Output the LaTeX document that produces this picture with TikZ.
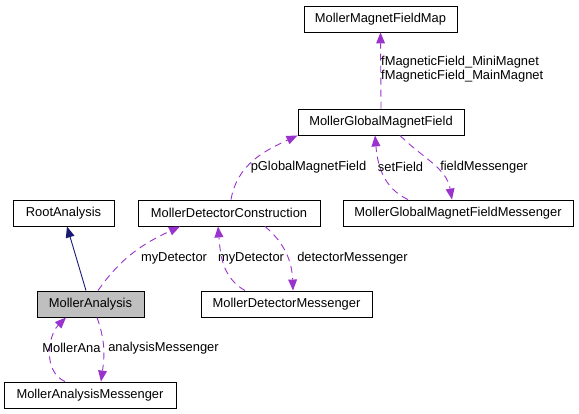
\documentclass[tikz,border=0pt]{standalone}
\usepackage{fontspec}
\setmainfont{Liberation Sans}
\usetikzlibrary{arrows.meta}
\definecolor{edgepurple}{HTML}{9A32CD}
\definecolor{edgenavy}{HTML}{191970}
\definecolor{boxgray}{HTML}{BFBFBF}
\tikzset{
  cls/.style={draw=black, line width=0.9pt, fill=white, inner sep=0pt, minimum height=26pt,
    font=\fontsize{12.9}{14}\selectfont, anchor=center},
  usage/.style={draw=edgepurple, line width=0.9pt, dash pattern=on 7pt off 5pt,
    -{Triangle[length=11pt,width=9pt,fill=edgepurple,line width=0pt]}},
  inherit/.style={draw=edgenavy, line width=0.9pt,
    -{Triangle[length=11pt,width=9pt,fill=edgenavy,line width=0pt]}},
  elabel/.style={inner sep=0pt, font=\fontsize{12.9}{14}\selectfont, text=black},
}
\begin{document}
\begin{tikzpicture}[x=1pt,y=1pt]
\useasboundingbox (0,0) rectangle (579,-413);
% class boxes
\node[cls, minimum width=153pt] (MMFM) at (380.5,-19) {MollerMagnetFieldMap};
\node[cls, minimum width=166pt] (MGMF) at (381,-122) {MollerGlobalMagnetField};
\node[cls, minimum width=230pt] (MGMFM) at (458,-213) {MollerGlobalMagnetFieldMessenger};
\node[cls, minimum width=101pt] (RA) at (63.5,-213) {RootAnalysis};
\node[cls, minimum width=182pt] (MDC) at (229,-213) {MollerDetectorConstruction};
\node[cls, minimum width=107pt, fill=boxgray] (MA) at (90.5,-304) {MollerAnalysis};
\node[cls, minimum width=171pt] (MDM) at (286.5,-304) {MollerDetectorMessenger};
\node[cls, minimum width=172pt] (MAM) at (90,-395) {MollerAnalysisMessenger};
% inheritance
\draw[inherit] ([xshift=-4.5pt]MA.north) -- ([xshift=3.5pt]RA.south);
% usage edges
\draw[usage] ([xshift=7.5pt]MA.north) to[out=55, in=205] ([xshift=-49pt]MDC.south);
\draw[usage] ([xshift=-41.5pt]MDM.north) to[out=150, in=-85] ([xshift=-11pt]MDC.south);
\draw[usage] ([xshift=36pt]MDC.south) to[out=-40, in=92] ([xshift=6.5pt]MDM.north);
\draw[usage] ([xshift=2pt]MDC.north) to[out=80, in=205] (MGMF.south west);
\draw[usage] ([xshift=-50pt]MGMFM.north) to[out=155, in=-85] ([xshift=-6pt]MGMF.south);
\draw[usage] ([xshift=19pt]MGMF.south) to[out=-45, in=100] ([xshift=-6pt]MGMFM.north);
\draw[usage] (MGMF.north) -- (MMFM.south);
\draw[usage] ([xshift=-25pt]MAM.north) to[out=155, in=225] ([xshift=-24.5pt]MA.south);
\draw[usage] ([xshift=6.5pt]MA.south) to[out=-70, in=82] ([xshift=11pt]MAM.north);
% edge labels
\node[elabel] (l1) at (174,-258) {myDetector};
\node[elabel] (l2) at (251,-258) {myDetector};
\node[elabel] (l3) at (352.5,-258) {detectorMessenger};
\node[elabel] (l4) at (308.5,-167) {pGlobalMagnetField};
\node[elabel] (l5) at (400.5,-167) {setField};
\node[elabel] (l6) at (484,-167) {fieldMessenger};
\node[elabel, anchor=west, align=left] (l7) at (381,-69) {fMagneticField\_MiniMagnet\\fMagneticField\_MainMagnet};
\node[elabel] (l8) at (71.5,-348) {MollerAna};
\node[elabel] (l9) at (163.5,-348) {analysisMessenger};
\end{tikzpicture}
\end{document}
